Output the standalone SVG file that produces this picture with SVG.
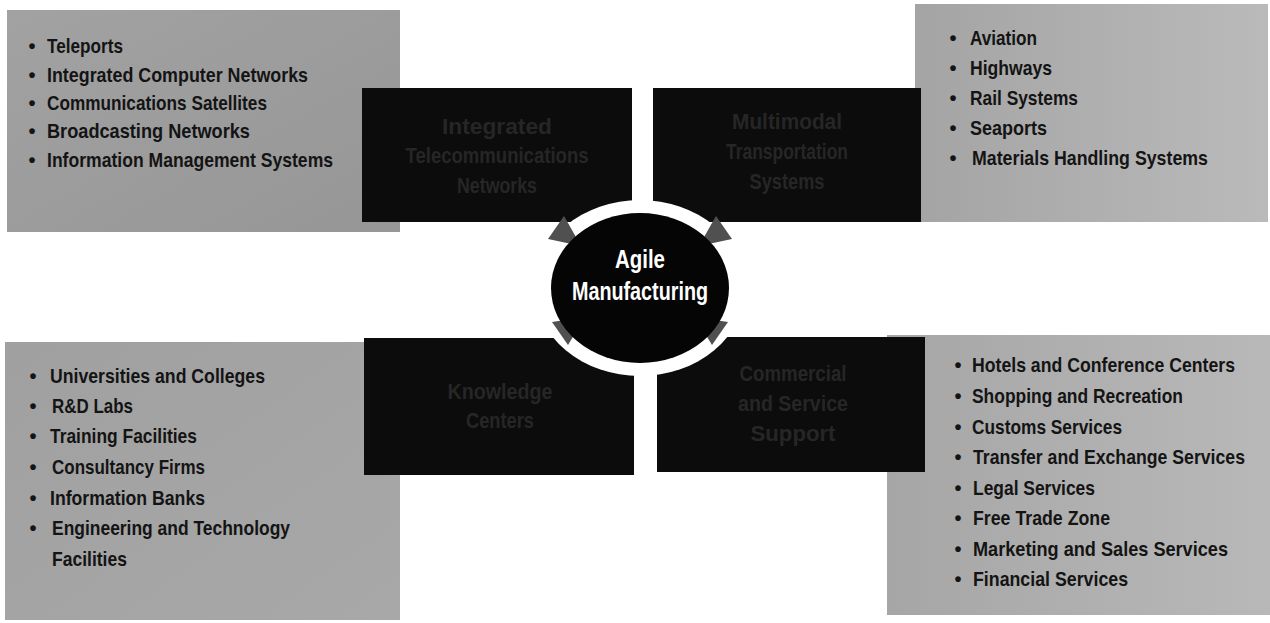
<svg xmlns="http://www.w3.org/2000/svg" width="1270" height="623" viewBox="0 0 1270 623">
  <defs>
    <style>
      .panel { stroke: none; }
      .block { fill: #0c0c0c; }
      .item { font-family: "Liberation Sans", Arial, sans-serif; font-size: 21px; font-weight: bold; fill: #141414; }
      .dot { font-family: "Liberation Sans", Arial, sans-serif; font-size: 20px; font-weight: bold; fill: #141414; text-anchor: middle; }
      .title { font-family: "Liberation Sans", Arial, sans-serif; font-size: 22px; font-weight: bold; fill: #262626; text-anchor: middle; }
      .hub { font-family: "Liberation Sans", Arial, sans-serif; font-size: 25px; font-weight: bold; fill: #ffffff; text-anchor: middle; }
      .tip { fill: #505050; }
    </style>
    <linearGradient id="gTL" x1="0" y1="0" x2="1" y2="1">
      <stop offset="0" stop-color="#a2a2a2"/>
      <stop offset="1" stop-color="#969696"/>
    </linearGradient>
    <linearGradient id="gTR" x1="0" y1="0" x2="1" y2="0">
      <stop offset="0" stop-color="#a4a4a4"/>
      <stop offset="1" stop-color="#bababa"/>
    </linearGradient>
    <linearGradient id="gBL" x1="0" y1="0" x2="1" y2="1">
      <stop offset="0" stop-color="#a0a0a0"/>
      <stop offset="1" stop-color="#a8a8a8"/>
    </linearGradient>
    <linearGradient id="gBR" x1="0" y1="0" x2="1" y2="0">
      <stop offset="0" stop-color="#a6a6a6"/>
      <stop offset="1" stop-color="#b8b8b8"/>
    </linearGradient>
  </defs>

  <rect width="1270" height="623" fill="#ffffff"/>

  <!-- Telecommunications quadrant: list panel, then the titled block -->
  <g id="telecom">
    <rect class="panel" x="7" y="10" width="393" height="222" fill="url(#gTL)"/>
    <text class="dot" x="32" y="53">•</text>
    <text class="item" transform="translate(47 53) scale(0.85 1)" textLength="89.4" lengthAdjust="spacingAndGlyphs">Teleports</text>
    <text class="dot" x="32" y="82">•</text>
    <text class="item" transform="translate(47 82) scale(0.85 1)" textLength="307.1" lengthAdjust="spacingAndGlyphs">Integrated Computer Networks</text>
    <text class="dot" x="32" y="110">•</text>
    <text class="item" transform="translate(47 110) scale(0.85 1)" textLength="258.8" lengthAdjust="spacingAndGlyphs">Communications Satellites</text>
    <text class="dot" x="32" y="138">•</text>
    <text class="item" transform="translate(47 138) scale(0.85 1)" textLength="238.8" lengthAdjust="spacingAndGlyphs">Broadcasting Networks</text>
    <text class="dot" x="32" y="167">•</text>
    <text class="item" transform="translate(47 167) scale(0.85 1)" textLength="336.5" lengthAdjust="spacingAndGlyphs">Information Management Systems</text>
    <rect class="block" x="362" y="88" width="270" height="134"/>
    <text class="title" transform="translate(497 134) scale(0.85 1)" textLength="129.4" lengthAdjust="spacingAndGlyphs">Integrated</text>
    <text class="title" transform="translate(497 163) scale(0.85 1)" textLength="215.3" lengthAdjust="spacingAndGlyphs">Telecommunications</text>
    <text class="title" transform="translate(497 193) scale(0.85 1)" textLength="94.1" lengthAdjust="spacingAndGlyphs">Networks</text>
  </g>

  <!-- Transportation quadrant -->
  <g id="transport">
    <rect class="panel" x="915" y="4" width="353" height="218" fill="url(#gTR)"/>
    <text class="dot" x="953" y="45">•</text>
    <text class="item" transform="translate(970 45) scale(0.85 1)" textLength="78.8" lengthAdjust="spacingAndGlyphs">Aviation</text>
    <text class="dot" x="953" y="75">•</text>
    <text class="item" transform="translate(970 75) scale(0.85 1)" textLength="96.5" lengthAdjust="spacingAndGlyphs">Highways</text>
    <text class="dot" x="953" y="105">•</text>
    <text class="item" transform="translate(970 105) scale(0.85 1)" textLength="127.1" lengthAdjust="spacingAndGlyphs">Rail Systems</text>
    <text class="dot" x="953" y="135">•</text>
    <text class="item" transform="translate(970 135) scale(0.85 1)" textLength="90.6" lengthAdjust="spacingAndGlyphs">Seaports</text>
    <text class="dot" x="953" y="165">•</text>
    <text class="item" transform="translate(972 165) scale(0.85 1)" textLength="277.6" lengthAdjust="spacingAndGlyphs">Materials Handling Systems</text>
    <rect class="block" x="653" y="88" width="268" height="134"/>
    <text class="title" transform="translate(787 129) scale(0.85 1)" textLength="129.4" lengthAdjust="spacingAndGlyphs">Multimodal</text>
    <text class="title" transform="translate(787 159) scale(0.85 1)" textLength="143.5" lengthAdjust="spacingAndGlyphs">Transportation</text>
    <text class="title" transform="translate(787 189) scale(0.85 1)" textLength="88.2" lengthAdjust="spacingAndGlyphs">Systems</text>
  </g>

  <!-- Knowledge quadrant -->
  <g id="knowledge">
    <rect class="panel" x="5" y="342" width="395" height="278" fill="url(#gBL)"/>
    <text class="dot" x="33" y="383">•</text>
    <text class="item" transform="translate(50 383) scale(0.85 1)" textLength="252.9" lengthAdjust="spacingAndGlyphs">Universities and Colleges</text>
    <text class="dot" x="33" y="413">•</text>
    <text class="item" transform="translate(52 413) scale(0.85 1)" textLength="95.3" lengthAdjust="spacingAndGlyphs">R&amp;D Labs</text>
    <text class="dot" x="33" y="443">•</text>
    <text class="item" transform="translate(50 443) scale(0.85 1)" textLength="172.9" lengthAdjust="spacingAndGlyphs">Training Facilities</text>
    <text class="dot" x="33" y="474">•</text>
    <text class="item" transform="translate(52 474) scale(0.85 1)" textLength="180" lengthAdjust="spacingAndGlyphs">Consultancy Firms</text>
    <text class="dot" x="33" y="505">•</text>
    <text class="item" transform="translate(50 505) scale(0.85 1)" textLength="182.4" lengthAdjust="spacingAndGlyphs">Information Banks</text>
    <text class="dot" x="33" y="535">•</text>
    <text class="item" transform="translate(52 535) scale(0.85 1)" textLength="280" lengthAdjust="spacingAndGlyphs">Engineering and Technology</text>
    <text class="item" transform="translate(52 566) scale(0.85 1)" textLength="88.2" lengthAdjust="spacingAndGlyphs">Facilities</text>
    <rect class="block" x="364" y="338" width="270" height="137"/>
    <text class="title" transform="translate(500 399) scale(0.85 1)" textLength="123.5" lengthAdjust="spacingAndGlyphs">Knowledge</text>
    <text class="title" transform="translate(500 428) scale(0.85 1)" textLength="80" lengthAdjust="spacingAndGlyphs">Centers</text>
  </g>

  <!-- Commercial quadrant -->
  <g id="commercial">
    <rect class="panel" x="887" y="335" width="383" height="280" fill="url(#gBR)"/>
    <text class="dot" x="958" y="372">•</text>
    <text class="item" transform="translate(972 372) scale(0.85 1)" textLength="309.4" lengthAdjust="spacingAndGlyphs">Hotels and Conference Centers</text>
    <text class="dot" x="958" y="403">•</text>
    <text class="item" transform="translate(972 403) scale(0.85 1)" textLength="248.2" lengthAdjust="spacingAndGlyphs">Shopping and Recreation</text>
    <text class="dot" x="958" y="434">•</text>
    <text class="item" transform="translate(972 434) scale(0.85 1)" textLength="176.5" lengthAdjust="spacingAndGlyphs">Customs Services</text>
    <text class="dot" x="958" y="464">•</text>
    <text class="item" transform="translate(973 464) scale(0.85 1)" textLength="320" lengthAdjust="spacingAndGlyphs">Transfer and Exchange Services</text>
    <text class="dot" x="958" y="495">•</text>
    <text class="item" transform="translate(973 495) scale(0.85 1)" textLength="143.5" lengthAdjust="spacingAndGlyphs">Legal Services</text>
    <text class="dot" x="958" y="525">•</text>
    <text class="item" transform="translate(973 525) scale(0.85 1)" textLength="161.2" lengthAdjust="spacingAndGlyphs">Free Trade Zone</text>
    <text class="dot" x="958" y="556">•</text>
    <text class="item" transform="translate(973 556) scale(0.85 1)" textLength="300" lengthAdjust="spacingAndGlyphs">Marketing and Sales Services</text>
    <text class="dot" x="958" y="586">•</text>
    <text class="item" transform="translate(973 586) scale(0.85 1)" textLength="182.4" lengthAdjust="spacingAndGlyphs">Financial Services</text>
    <rect class="block" x="657" y="337" width="268" height="135"/>
    <text class="title" transform="translate(793 381) scale(0.85 1)" textLength="125.9" lengthAdjust="spacingAndGlyphs">Commercial</text>
    <text class="title" transform="translate(793 411) scale(0.85 1)" textLength="129.4" lengthAdjust="spacingAndGlyphs">and Service</text>
    <text class="title" transform="translate(793 441) scale(0.85 1)" textLength="100" lengthAdjust="spacingAndGlyphs">Support</text>
  </g>

  <!-- White ring round the hub, broken by the four inward arrowheads -->
  <g id="connectors">
    <ellipse cx="640" cy="288" rx="105" ry="88" fill="#ffffff"/>
    <polygon class="tip" points="581,246 548,239 564,216"/>
    <polygon class="tip" points="699,246 732,239 716,216"/>
    <polygon class="tip" points="585,317 568,345 552,322"/>
    <polygon class="tip" points="695,317 712,345 728,322"/>
  </g>

  <!-- Central hub -->
  <g id="hub">
    <ellipse cx="640" cy="288" rx="89" ry="75" fill="#050505"/>
    <text class="hub" transform="translate(640 268) scale(0.8 1)" textLength="62.5" lengthAdjust="spacingAndGlyphs">Agile</text>
    <text class="hub" transform="translate(640 300) scale(0.8 1)" textLength="170" lengthAdjust="spacingAndGlyphs">Manufacturing</text>
  </g>
</svg>
